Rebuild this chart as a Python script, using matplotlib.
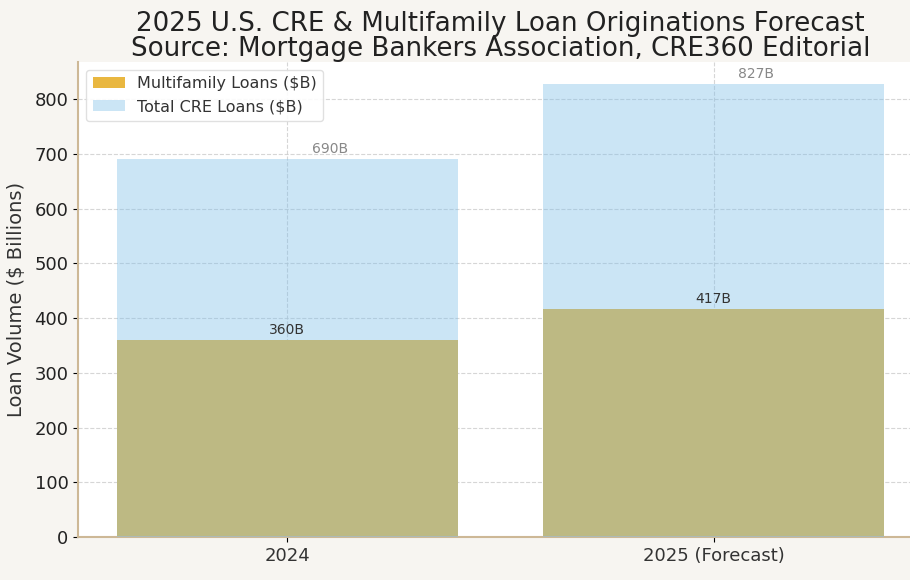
import matplotlib
matplotlib.use("Agg")
import matplotlib.pyplot as plt
import numpy as np

# data
years = ["2024", "2025 (Forecast)"]
multifamily = [360, 417]
total_cre = [690, 827]

x = np.arange(len(years))

fig = plt.figure(figsize=(9.1, 5.8), dpi=100, facecolor="#F7F5F1")
ax = fig.add_axes([0.086, 0.074, 0.928, 0.819])
ax.set_facecolor("white")

ax.bar(x, multifamily, width=0.8, color="#E9B740", label="Multifamily Loans ($B)", zorder=2)
ax.bar(x, total_cre, width=0.8, color="#7DBEE8", alpha=0.4, label="Total CRE Loans ($B)", zorder=3)

for i in range(len(years)):
    ax.text(x[i], multifamily[i] + 6, f"{multifamily[i]}B", ha="center", va="bottom",
            fontsize=10, color="#333333", zorder=4)
    ax.text(x[i] + 0.1, total_cre[i] + 6, f"{total_cre[i]}B", ha="center", va="bottom",
            fontsize=10, color="#888888", zorder=4)

ax.set_xticks(x)
ax.set_xticklabels(years, fontsize=13, color="#333333")
ax.tick_params(axis="y", labelsize=13, labelcolor="#222222")
ax.set_ylabel("Loan Volume ($ Billions)", fontsize=14, color="#333333", labelpad=6)
ax.set_ylim(0, 868)
ax.set_yticks(np.arange(0, 900, 100))
ax.set_title("2025 U.S. CRE & Multifamily Loan Originations Forecast\n"
             "Source: Mortgage Bankers Association, CRE360 Editorial",
             fontsize=18.8, color="#222222", pad=4, linespacing=0.95)

ax.grid(True, linestyle="--", color="#CCCCCC", linewidth=0.8, alpha=0.8, zorder=0)
ax.set_axisbelow(True)

for s in ["top", "right"]:
    ax.spines[s].set_visible(False)
for s in ["left", "bottom"]:
    ax.spines[s].set_color("#CDB896")
    ax.spines[s].set_linewidth(1.5)

ax.legend(loc="upper left", fontsize=11.5, framealpha=0.9, edgecolor="#DDDDDD",
          labelcolor="#333333")

fig.savefig("out.png", dpi=100, facecolor=fig.get_facecolor())
